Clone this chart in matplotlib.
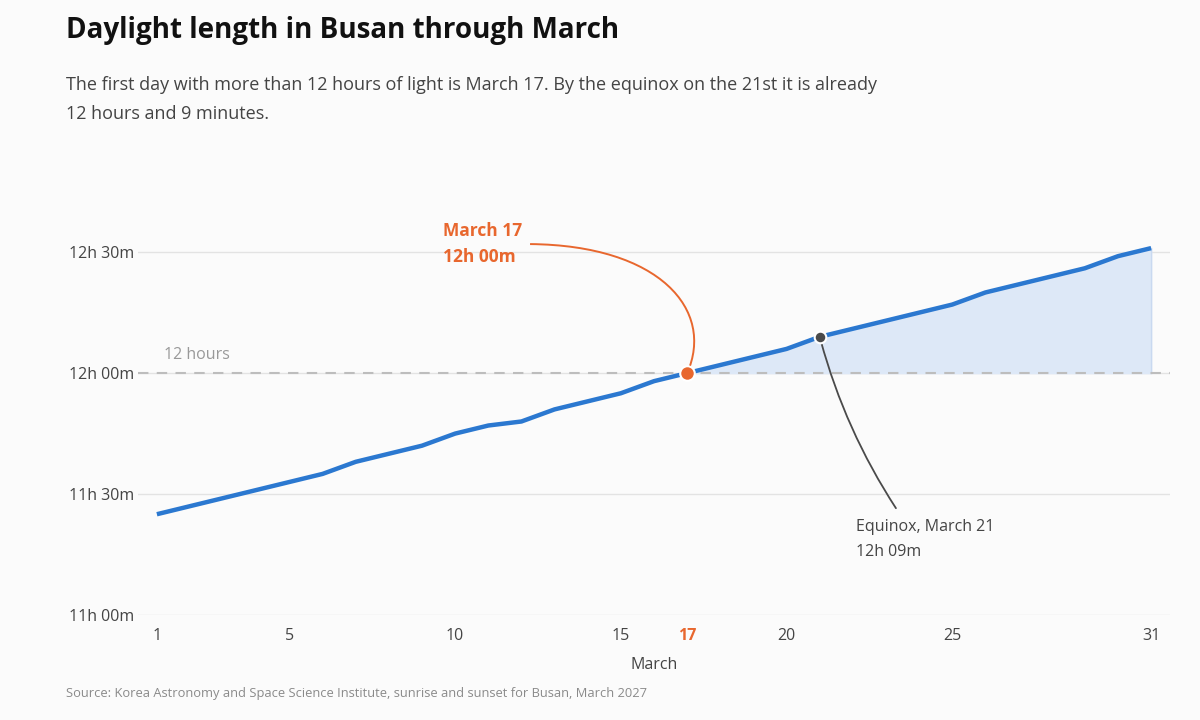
import numpy as np
import matplotlib.pyplot as plt
from matplotlib.ticker import FixedLocator
from matplotlib.path import Path
from matplotlib.patches import PathPatch

plt.rcParams['font.family'] = ['Open Sans', 'DejaVu Sans']

# day of March and daylight length in minutes
days = list(range(1, 32))
daylight_min = [685, 687, 689, 691, 693, 695, 698, 700, 702, 705,
                707, 708, 711, 713, 715, 718, 720, 722, 724, 726,
                729, 731, 733, 735, 737, 740, 742, 744, 746, 749, 751]

x_ticks = [1, 5, 10, 15, 17, 20, 25, 31]
y_ticks = [660, 690, 720, 750]
y_labels = ['11h 00m', '11h 30m', '12h 00m', '12h 30m']

first_day = 17
equinox_day = 21

blue = '#2b78d0'
orange = '#e8672e'
dark = '#444444'
bg = '#fbfbfb'

x = np.array(days)
y = np.array(daylight_min)

fig = plt.figure(figsize=(12, 7.2), dpi=100, facecolor=bg)
ax = fig.add_axes([0.115, 0.1458, 0.86, 0.56])
ax.set_facecolor(bg)

ax.set_xlim(0.43, 31.57)
ax.set_ylim(660, 760)

for s in ax.spines.values():
    s.set_visible(False)
ax.yaxis.set_major_locator(FixedLocator(y_ticks))
ax.set_yticklabels(y_labels)
ax.xaxis.set_major_locator(FixedLocator(x_ticks))
ax.set_xticklabels([str(d) for d in x_ticks])
ax.tick_params(length=0, labelsize=11.5, colors=dark)
ax.tick_params(axis='y', pad=3)
ax.tick_params(axis='x', pad=9)
for lab in ax.get_xticklabels():
    if lab.get_text() == str(first_day):
        lab.set_color(orange)
        lab.set_fontweight('bold')
for t in y_ticks:
    ax.axhline(t, color='#e3e3e3', lw=1, zorder=0)

# shade the part above 12 hours
above = x >= first_day
ax.fill_between(x[above], 720, y[above], color='#dde8f7', zorder=1)
ax.plot([31, 31], [720, y[-1]], color='#c9d9f0', lw=1, zorder=1)

ax.axhline(720, color='#bdbdbd', lw=1.5, ls=(0, (5, 4)), zorder=2)
ax.text(1.2, 722.5, '12 hours', color='#999999', fontsize=11.5, va='bottom')

ax.plot(x, y, color=blue, lw=3.2, zorder=3, solid_capstyle='butt')

# March 17 marker
i17 = days.index(first_day)
ax.scatter([first_day], [y[i17]], s=110, color=orange, edgecolor='white',
           linewidth=1.5, zorder=5)
ax.text(9.63, 752, 'March 17\n12h 00m', fontsize=12.5, fontweight='bold',
        color=orange, ha='left', va='center', linespacing=1.55)
# curved leader (cubic bezier) from the label to the dot
x0, y0 = first_day, y[i17]
leader = Path([(x0 - 4.74, y0 + 32.0), (x0 - 0.82, y0 + 31.7),
               (x0 + 0.84, y0 + 15.6), (x0, y0)],
              [Path.MOVETO, Path.CURVE4, Path.CURVE4, Path.CURVE4])
ax.add_patch(PathPatch(leader, fc='none', ec=orange, lw=1.4, zorder=4))

# equinox marker
i21 = days.index(equinox_day)
ax.scatter([equinox_day], [y[i21]], s=70, color='#4a4a4a', edgecolor='white',
           linewidth=1.5, zorder=5)
ax.annotate('', xy=(equinox_day, y[i21]), xytext=(23.3, 686.5),
            arrowprops=dict(arrowstyle='-', color='#4a4a4a', lw=1.3,
                            shrinkA=0, shrinkB=3,
                            connectionstyle='arc3,rad=-0.08'))
ax.text(22.1, 683.7, 'Equinox, March 21\n12h 09m', fontsize=11.5, color=dark,
        ha='left', va='top', linespacing=1.75)

ax.set_xlabel('March', fontsize=11.5, color=dark, labelpad=10)

fig.text(0.055, 0.958, 'Daylight length in Busan through March', fontsize=20,
         fontweight='bold', color='#111111', va='center')
fig.text(0.055, 0.8615,
         'The first day with more than 12 hours of light is March 17. By the equinox on the 21st it is already\n'
         '12 hours and 9 minutes.',
         fontsize=13, color=dark, va='center', linespacing=1.75)
fig.text(0.055, 0.037,
         'Source: Korea Astronomy and Space Science Institute, sunrise and sunset for Busan, March 2027',
         fontsize=9.3, color='#8a8a8a', va='center')

fig.savefig('out.png', dpi=100, facecolor=bg)
